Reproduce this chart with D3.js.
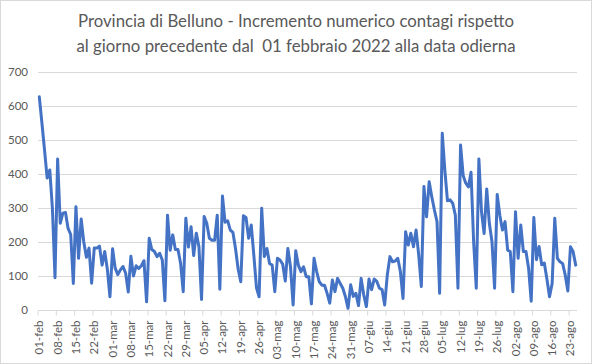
<!DOCTYPE html>
<html>
<head>
<meta charset="utf-8">
<script src="https://cdn.jsdelivr.net/npm/d3@7"></script>
<style>
  html, body { margin: 0; padding: 0; background: #ffffff; }
  svg { display: block; }
</style>
</head>
<body>
<svg id="chart" width="592" height="364"></svg>
<script>
// ---- data ----
const titleLines = [
  "Provincia di Belluno - Incremento numerico contagi rispetto",
  "al giorno precedente dal  01 febbraio 2022 alla data odierna"
];
const startDate = "2022-02-01";
const monthNames = ["gen","feb","mar","apr","mag","giu","lug","ago","set","ott","nov","dic"];
// daily increments, 01-feb-2022 .. 25-ago-2022
const values = [
  627, 550, 470, 388, 412, 300, 95,
  444, 255, 285, 287, 240, 222, 78,
  304, 152, 268, 200, 155, 182, 79,
  182, 182, 188, 132, 172, 120, 39,
  180, 123, 104, 118, 128, 108, 53,
  158, 100, 130, 122, 130, 145, 24,
  211, 178, 172, 157, 167, 147, 27,
  279, 176, 221, 178, 178, 137, 54,
  270, 185, 245, 160, 226, 187, 31,
  275, 255, 211, 205, 205, 279, 61,
  335, 258, 262, 235, 228, 180, 120,
  83, 277, 272, 211, 250, 160, 65,
  39, 299, 157, 181, 137, 132, 54,
  152, 147, 135, 85, 181, 127, 15,
  174, 132, 113, 127, 98, 98, 18,
  152, 113, 83, 73, 73, 49, 20,
  88, 54, 93, 78, 64, 39, 5,
  74, 40, 49, 13, 93, 44, 10,
  91, 60, 91, 84, 64, 60, 15,
  103, 157, 142, 144, 152, 113, 34,
  230, 191, 226, 186, 235, 162, 69,
  363, 274, 377, 333, 294, 260, 49,
  520, 410, 321, 324, 314, 279, 64,
  485, 395, 373, 362, 405, 200, 64,
  444, 289, 225, 356, 255, 201, 64,
  340, 279, 235, 260, 176, 172, 54,
  289, 152, 250, 172, 172, 123, 26,
  272, 148, 187, 133, 138, 91, 39,
  78, 270, 152, 142, 137, 103, 56,
  186, 172, 132
];
const tickLabels = [
  "01-feb","08-feb","15-feb","22-feb","01-mar","08-mar","15-mar","22-mar","29-mar",
  "05-apr","12-apr","19-apr","26-apr","03-mag","10-mag","17-mag","24-mag","31-mag",
  "07-giu","14-giu","21-giu","28-giu","05-lug","12-lug","19-lug","26-lug",
  "02-ago","09-ago","16-ago","23-ago"
];
const yTicks = [0, 100, 200, 300, 400, 500, 600, 700];

// ---- chart ----
const svg = d3.select("#chart");
const W = 592, H = 364;
const margin = { left: 38, right: 15, top: 72, bottom: 54 };
const plotL = margin.left, plotR = W - margin.right, plotT = margin.top, plotB = H - margin.bottom;
const font = "Lato, 'Open Sans', 'Liberation Sans', sans-serif";
const textColor = "#595959";

// chart area border
svg.append("rect")
  .attr("x", 0.5).attr("y", 0.5).attr("width", W - 1).attr("height", H - 1)
  .attr("fill", "#ffffff").attr("stroke", "#d9d9d9");

const parse = d3.utcParse("%Y-%m-%d");
const d0 = parse(startDate);
const dates = values.map((v, i) => d3.utcDay.offset(d0, i));
const fmt = d => d3.utcFormat("%d")(d) + "-" + monthNames[d.getUTCMonth()];

const x = d3.scaleBand().domain(d3.range(values.length)).range([plotL, plotR]).padding(0);
const bw = x.bandwidth();
const y = d3.scaleLinear().domain([0, 700]).range([plotB, plotT]);

// title
svg.append("text")
  .attr("x", W / 2).attr("y", 27)
  .attr("text-anchor", "middle")
  .attr("font-family", font).attr("font-size", 16.8)
  .attr("fill", textColor)
  .style("white-space", "pre")
  .selectAll("tspan").data(titleLines).join("tspan")
  .attr("x", W / 2).attr("dy", (d, i) => i === 0 ? 0 : 24.5)
  .style("white-space", "pre")
  .text(d => d);

// gridlines
svg.append("g").selectAll("line").data(yTicks.filter(t => t > 0)).join("line")
  .attr("x1", plotL).attr("x2", plotR)
  .attr("y1", d => Math.round(y(d)) + 0.5).attr("y2", d => Math.round(y(d)) + 0.5)
  .attr("stroke", "#d9d9d9").attr("stroke-width", 1);

// y axis labels
const yAxis = d3.axisLeft(y).tickValues(yTicks).tickSize(0).tickPadding(10);
const gy = svg.append("g").attr("transform", `translate(${plotL},0)`).call(yAxis);
gy.select(".domain").remove();
gy.selectAll("text").attr("font-family", font).attr("font-size", 11.5).attr("fill", textColor);

// x axis
const tickIdx = tickLabels.map((t, k) => dates.findIndex(d => fmt(d) === t));
const xAxis = d3.axisBottom(x).tickValues(tickIdx).tickSizeInner(5).tickSizeOuter(0)
  .tickFormat(i => fmt(dates[i]));
const gx = svg.append("g").attr("transform", `translate(0,${Math.round(plotB) + 0.5})`).call(xAxis);
gx.select(".domain").attr("stroke", "#d9d9d9").attr("d", `M${plotL},0H${plotR}`);
gx.selectAll(".tick line").attr("stroke", "#d9d9d9").attr("x1", -bw / 2).attr("x2", -bw / 2);
gx.selectAll(".tick text")
  .attr("font-family", font).attr("font-size", 11.5).attr("fill", textColor)
  .attr("text-anchor", "end")
  .attr("transform", "rotate(-90)")
  .attr("x", -10).attr("y", 0).attr("dy", "0.35em");

// line
const line = d3.line()
  .x((d, i) => x(i) + bw / 2)
  .y(d => y(d))
  .curve(d3.curveLinear);
svg.append("path")
  .datum(values)
  .attr("fill", "none")
  .attr("stroke", "#4472c4")
  .attr("stroke-width", 3)
  .attr("stroke-linejoin", "round")
  .attr("stroke-linecap", "round")
  .attr("d", line);
</script>
</body>
</html>
